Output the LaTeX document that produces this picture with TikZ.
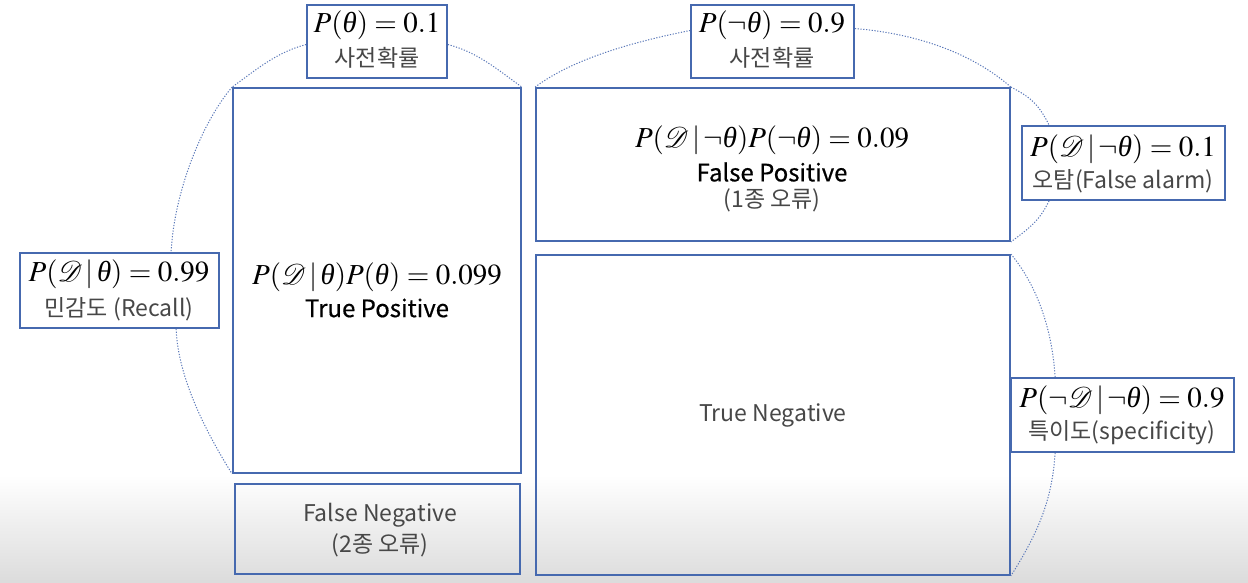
\documentclass[tikz,border=0pt]{standalone}
\usepackage{mathptmx}
\usepackage{mathrsfs}
\usepackage[no-math]{fontspec}
\newfontfamily\kr{Noto Sans CJK KR}
\newfontfamily\krm[FakeBold=0.5]{Noto Sans CJK KR}
\newfontfamily\tms{Liberation Serif}
\newcommand{\thet}{\mbox{\tms\itshape θ}}
\usetikzlibrary{calc}
\definecolor{bblue}{RGB}{70,105,175}
\definecolor{dblue}{RGB}{90,120,185}
\tikzset{
  boxwh/.style 2 args={draw=bblue, line width=0.9pt, inner sep=0pt,
    minimum width=#1*0.5pt, minimum height=#2*0.5pt},
  mth/.style={font=\fontsize{14.5}{16}\selectfont, inner sep=0pt},
  krl/.style={font=\kr\fontsize{11.5}{13}\selectfont, text=black!72, inner sep=0pt},
  krb/.style={font=\krm\fontsize{12}{14}\selectfont, text=black, inner sep=0pt},
  arcline/.style={draw=dblue, line width=0.5pt, dash pattern=on 0.6pt off 0.8pt},
}
\begin{document}
\begin{tikzpicture}[x=0.5pt, y=-0.5pt]
\useasboundingbox (0,0) rectangle (1248,583);
\fill[white] (0,0) rectangle (1248,475);
\shade[top color=white, bottom color=gray!28] (0,475) rectangle (1248,583);

% boxes
\node[boxwh={140}{73}] (pt) at (377,41.5) {};
\node[boxwh={163}{73}] (pnt) at (772.5,41.5) {};
\node[boxwh={288}{385}] (tp) at (377,280.5) {};
\node[boxwh={285}{90}] (fn) at (377.5,529) {};
\node[boxwh={474}{153}] (fp) at (773,164.5) {};
\node[boxwh={474}{320}] (tn) at (773,415) {};
\node[boxwh={199}{75}] (rec) at (119.5,290.5) {};
\node[boxwh={203}{74}] (fa) at (1123.5,163) {};
\node[boxwh={223}{74}] (sp) at (1122.5,415) {};

% texts
\node[mth] (ptm) at (377,25) {$P(\thet) = 0.1$};
\node[krl] (ptk) at (377,58) {사전확률};
\node[mth] (pntm) at (772,25) {$P(\neg\thet) = 0.9$};
\node[krl] (pntk) at (772,58) {사전확률};
\node[mth] (tpm) at (377,277) {$P(\mathscr{D}\,|\,\thet)P(\thet) = 0.099$};
\node[krb] (tpk) at (377,308) {True Positive};
\node[mth] (fpm) at (772,140) {$P(\mathscr{D}\,|\,\neg\thet)P(\neg\thet) = 0.09$};
\node[krb] (fpk) at (772,172) {False Positive};
\node[krl] (fpk2) at (772,200) {(1종 오류)};
\node[krl] (fnk) at (380,515) {False Negative};
\node[krl] (fnk2) at (380,545) {(2종 오류)};
\node[krl] (tnk) at (773,415) {True Negative};
\node[mth] (recm) at (119,274) {$P(\mathscr{D}\,|\,\thet) = 0.99$};
\node[krl] (reck) at (119,309) {민감도 (Recall)};
\node[mth] (fam) at (1123,149) {$P(\mathscr{D}\,|\,\neg\thet) = 0.1$};
\node[krl] (fak) at (1123,181) {오탐(False alarm)};
\node[mth] (spm) at (1122,400) {$P(\neg\mathscr{D}\,|\,\neg\thet) = 0.9$};
\node[krl] (spk) at (1122,433) {특이도(specificity)};

% arc anchor points
\coordinate (recT) at ($(rec.north west)+(152,0)$);
\coordinate (recB) at ($(rec.south west)+(157,0)$);
\coordinate (faT) at ($(fa.north west)+(28,0)$);
\coordinate (faB) at ($(fa.south west)+(28,0)$);
\coordinate (spT) at ($(sp.north west)+(45,0)$);
\coordinate (spB) at ($(sp.south west)+(45,0)$);
\coordinate (pntW) at ($(pnt.west)+(0,-11)$);
\coordinate (pntE) at ($(pnt.east)+(0,-13)$);
\coordinate (ptW) at ($(pt.west)+(0,3)$);
\coordinate (ptE) at ($(pt.east)+(0,3)$);

% dotted arcs
\draw[arcline] (ptW) .. controls +(-30,8) and +(25,-18) .. (tp.north west);
\draw[arcline] (tp.north west) .. controls +(-30,35) and +(3,-60) .. (recT);
\draw[arcline] (recB) .. controls +(2,50) and +(-25,-40) .. (tp.south west);
\draw[arcline] (ptE) .. controls +(30,8) and +(-25,-18) .. (tp.north east);
\draw[arcline] (fp.north west) .. controls +(40,-30) and +(-50,10) .. (pntW);
\draw[arcline] (pntE) .. controls +(60,5) and +(-40,-35) .. (fp.north east);
\draw[arcline] (fp.north east) .. controls +(20,10) and +(-10,-20) .. (faT);
\draw[arcline] (faB) .. controls +(-10,20) and +(20,-15) .. (fp.south east);
\draw[arcline] (tn.north east) .. controls +(25,30) and +(-3,-50) .. (spT);
\draw[arcline] (spB) .. controls +(-3,50) and +(25,-40) .. (tn.south east);
\end{tikzpicture}
\end{document}
